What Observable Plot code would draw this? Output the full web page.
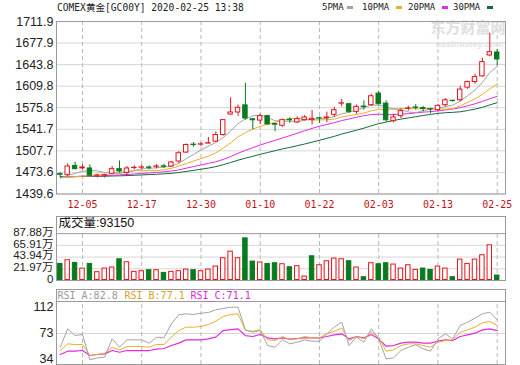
<!DOCTYPE html>
<html><head><meta charset="utf-8">
<script src="https://cdn.jsdelivr.net/npm/d3@7"></script>
<script src="https://cdn.jsdelivr.net/npm/@observablehq/plot@0.6"></script>
<style>
body{margin:0;background:#fff;}
#wrap{position:relative;width:520px;height:365px;overflow:hidden;background:#fff;}
#wrap svg{position:absolute;left:0;}
.t{position:absolute;font-family:"DejaVu Sans Mono","Liberation Mono","Noto Sans CJK SC",monospace;color:#222;white-space:nowrap;line-height:1;}
.sw{position:absolute;width:6px;height:3px;}
</style></head><body><div id="wrap"></div>
<script>
// ---------- data ----------
const dates = ["12-02","12-03","12-04","12-05","12-06","12-09","12-10","12-11","12-12","12-13","12-16","12-17","12-18","12-19","12-20","12-23","12-24","12-26","12-27","12-30","12-31","01-02","01-03","01-06","01-07","01-08","01-09","01-10","01-13","01-14","01-15","01-16","01-17","01-20","01-21","01-22","01-23","01-24","01-27","01-28","01-29","01-30","01-31","02-03","02-04","02-05","02-06","02-07","02-10","02-11","02-12","02-13","02-14","02-17","02-18","02-19","02-20","02-21","02-24","02-25"];
const open  = [1471,1469.9,1484,1480,1479.9,1468.6,1468.8,1471.5,1478.8,1472.6,1480.4,1481.2,1481.5,1482.5,1483.3,1483,1490.9,1505,1517.5,1517.5,1519.2,1522.2,1532.7,1565.1,1568.3,1579.5,1557.5,1555.5,1562.5,1550,1547.3,1556.7,1552.5,1556.2,1556.2,1559.2,1559.5,1564.6,1582.2,1581.3,1569.3,1577.7,1579.8,1598.1,1582.3,1554.5,1562.5,1574,1576.2,1575.2,1573.5,1571.9,1579.8,1586.8,1587.6,1607.5,1616.4,1625.3,1658.3,1663];
const high  = [1473,1487,1489.8,1485.6,1485.6,1471,1471,1483,1491.9,1483,1484,1485,1484,1486,1486.5,1491,1506.6,1518.5,1520.7,1520.7,1528.9,1537.5,1557,1591.5,1580,1614.5,1559,1565.5,1564,1551,1558,1560,1561.5,1563.5,1571.5,1561,1568.8,1576.2,1588.7,1583,1580,1586.6,1597,1601.8,1586.6,1565.6,1573.5,1578.2,1580.8,1578,1575,1581.3,1590.2,1587.6,1609.6,1618,1628.4,1654,1693.3,1668];
const low   = [1465,1467.3,1477.8,1477.8,1467.5,1465,1464.7,1470,1472.6,1467.3,1477.8,1477.8,1478,1479,1480,1481.5,1488,1503.9,1513.3,1514.4,1518.5,1521,1531,1564,1562,1556.2,1541,1549,1548.3,1538,1545,1551,1551,1555,1548.5,1551,1552.5,1560.4,1577.2,1567,1565.6,1572,1578,1579.8,1553,1552,1558.8,1570.4,1571.9,1569,1566,1569.3,1577.2,1584.4,1585,1604.9,1612.7,1624.2,1656.2,1642];
const close = [1470,1483,1478.8,1481.5,1468.5,1469,1469.4,1478.8,1475.2,1479.9,1481,1481.6,1480.9,1483,1482.6,1489.3,1503.9,1517,1516.9,1518,1519.8,1532.7,1556.2,1568.3,1575.7,1558.8,1556,1562.5,1549.4,1549,1556.2,1556,1557.8,1560.4,1558.3,1558.8,1560.4,1571.9,1582.8,1569.3,1577.2,1576.7,1593.9,1581.3,1556,1560.5,1570.4,1574.6,1575.5,1573.8,1573,1578.7,1587.6,1586.4,1604.4,1616.3,1624.2,1647.8,1663.5,1652];
// volume in 万
const volume = [31.1,38.0,33.0,22.4,31.1,15.6,22.4,24.3,39.8,34.2,16.2,17.4,19.3,19.3,14.3,16.2,17.4,20.5,19.3,17.4,20.5,26.1,41.7,54.1,41.7,79.0,35.5,33.8,31.0,32.4,30.5,24.9,26.8,7.5,45.4,28.6,36.1,41.1,39.8,36.1,24.3,6.2,32.4,30.5,32.4,29.9,22.4,28.6,19.9,22.4,19.9,26.1,22.4,6.2,39.2,31.1,39.2,47.3,66.0,9.315];
const ma5  = [1465,1469,1472,1475.5,1476.6,1476.3,1473.3,1473.3,1472.0,1474.0,1476.6,1479.3,1479.7,1481.3,1481.9,1483.6,1488.0,1495.2,1502.0,1509.0,1515.1,1520.9,1528.7,1539.0,1550.5,1558.3,1563.0,1564.3,1560.5,1555.2,1554.7,1554.7,1553.8,1556.0,1557.7,1558.2,1559.0,1561.9,1566.3,1568.5,1572.3,1575.6,1580.0,1579.7,1577.1,1574.1,1572.9,1569.0,1567.9,1571.4,1573.5,1575.1,1577.7,1579.9,1586.0,1594.7,1603.8,1615.8,1631.2,1640.8];
const ma10 = [1465.3,1466.5,1467,1467.8,1468.3,1468.8,1470,1471.8,1473.8,1475.3,1476.4,1476.3,1476.5,1476.7,1478.0,1480.1,1483.7,1487.5,1491.7,1495.5,1499.3,1504.5,1512.0,1520.5,1529.8,1536.7,1541.9,1546.5,1549.7,1552.9,1556.5,1558.9,1559.0,1558.2,1556.5,1556.4,1556.9,1557.8,1561.2,1563.1,1565.2,1567.3,1570.9,1573.0,1573.1,1573.5,1574.5,1574.8,1574.0,1574.5,1574.1,1574.3,1573.6,1574.1,1578.7,1584.1,1589.5,1596.8,1605.6,1613.4];
const ma20 = [1465.5,1466.4,1467.1,1467.9,1468.2,1468.3,1468.5,1469.2,1469.7,1470.4,1471.2,1472.0,1472.8,1473.7,1474.6,1475.8,1477.7,1480.3,1482.9,1485.4,1487.9,1490.4,1494.2,1498.6,1503.9,1508.4,1512.8,1517.0,1520.7,1524.2,1527.9,1531.7,1535.5,1539.4,1543.1,1546.6,1549.4,1552.2,1555.5,1558.0,1560.9,1563.1,1565.0,1565.6,1564.8,1565.0,1565.7,1566.3,1567.6,1568.8,1569.6,1570.8,1572.3,1573.6,1575.9,1578.8,1582.0,1585.8,1589.8,1593.9];
const ma30 = [1467,1467,1467,1467.2,1467.3,1467.4,1467.6,1468,1468.3,1468.7,1469.1,1469.7,1470.2,1470.8,1471.4,1472.2,1473.5,1475.2,1476.9,1478.7,1480.5,1482.8,1485.8,1489.3,1493.0,1496.1,1499.1,1502.3,1505.1,1507.9,1510.8,1513.2,1515.8,1518.5,1521.4,1524.4,1527.5,1530.6,1534.2,1537.2,1540.4,1543.5,1547.3,1550.6,1553.1,1555.6,1557.8,1559.7,1561.6,1563.5,1565.3,1566.8,1567.9,1568.5,1569.4,1571.3,1573.6,1576.4,1580.3,1583.7];
const rsiA = [52.7,79.9,70.0,71.5,34.0,36.9,37.9,65.1,52.7,63.6,63.6,63.6,58.7,67.6,66.6,87.3,100.7,102.1,101.2,103.1,104.1,108.1,110.1,112.0,112.0,78.4,75.0,77.4,55.2,52.7,63.6,57.7,60.2,63.6,61.6,61.6,72.5,82.4,89.8,55.2,67.6,60.2,79.9,65.1,35.5,36.9,47.8,52.7,56.2,50.3,46.8,65.1,72.5,65.1,84.9,89.8,95.7,102.1,104.6,93.3];
const rsiB = [47.8,57.7,56.7,56.7,40.4,41.9,43.9,52.7,48.8,53.7,53.7,53.7,52.7,56.7,56.7,67.6,77.4,82.4,82.4,83.4,86.3,91.3,98.2,101.2,102.1,77.4,76.5,78.4,63.6,62.6,68.6,63.6,65.1,68.6,66.6,66.6,72.5,76.5,80.9,62.6,68.6,65.1,75.0,67.6,46.8,48.8,55.2,57.7,57.7,55.2,52.7,60.2,62.6,63.6,75.0,78.4,82.4,88.8,90.8,84.9];
const rsiC = [41.9,46.8,46.8,47.8,40.4,41.9,42.9,47.8,45.3,47.8,47.8,47.8,47.8,49.8,50.8,55.2,58.7,63.6,63.6,63.6,65.1,67.6,77.4,78.9,79.9,70.0,68.6,71.5,66.6,65.1,66.6,64.6,65.6,66.6,66.6,66.6,68.6,71.0,72.5,65.1,68.6,66.6,71.5,65.1,54.2,55.2,58.7,60.2,60.2,58.7,58.7,61.6,63.6,62.6,68.6,71.0,73.5,78.4,79.9,77.4];
const priceTicks = [1439.6,1473.6,1507.7,1541.7,1575.8,1609.8,1643.8,1677.9,1711.9];
const volTicks = [0,21.97,43.94,65.91,87.88];
const rsiTicks = [34,73,112];
const xTickLabels = ["12-05","12-17","12-30","01-10","01-22","02-03","02-13","02-25"];
const titleText = "COMEX黄金[GC00Y] 2020-02-25 13:38";
const maNames = ["5PMA","10PMA","20PMA","30PMA"];
const volHeader = "成交量:93150";
const rsiHeader = ["RSI_A:82.8","RSI_B:77.1","RSI_C:71.1"];

// ---------- styling ----------
const RED = "#e3131b", GREEN = "#0b7a1f";
const C5 = "#a3a3a3", C10 = "#e8b12c", C20 = "#e22ae2", C30 = "#136b3b";
const GRID = "#d6d6d6", FRAME = "#9a9a9a", VGRID = "#b8b8b8";
const SANS = "Liberation Sans, Arial, Noto Sans CJK SC, sans-serif";
const MONO = "DejaVu Sans Mono, Liberation Mono, Noto Sans CJK SC, monospace";
const XDOM = [-0.51, 60.12];

const rows = dates.map((d, i) => ({
  i, date: d, open: open[i], high: high[i], low: low[i], close: close[i],
  vol: volume[i], ma5: ma5[i], ma10: ma10[i], ma20: ma20[i], ma30: ma30[i],
  ra: rsiA[i], rb: rsiB[i], rc: rsiC[i],
  up: close[i] >= open[i],
  vup: i === 0 ? close[i] >= open[i] : close[i] >= close[i - 1]
}));
const tickIdx = xTickLabels.map(l => dates.indexOf(l));
const HW = 0.3;

const wrap = document.getElementById("wrap");
function place(svg, top) { svg.style.top = top + "px"; wrap.appendChild(svg); }

// ---------- main candlestick panel ----------
const main = Plot.plot({
  width: 520, height: 215, marginLeft: 56, marginRight: 15, marginTop: 21, marginBottom: 21.5,
  x: {type: "linear", domain: XDOM, label: null},
  y: {domain: [priceTicks[0], priceTicks[priceTicks.length - 1]], label: null},
  style: {fontFamily: SANS, background: "transparent", color: "#222"},
  marks: [
    Plot.gridY(priceTicks, {stroke: GRID, strokeOpacity: 1}),
    Plot.ruleX(tickIdx, {stroke: VGRID, strokeDasharray: "4,3"}),
    Plot.axisY(priceTicks, {tickSize: 0, tickPadding: 3, fontSize: 12.5, label: null, tickFormat: d => d.toFixed(1)}),
    Plot.axisX(tickIdx, {tickSize: 0, tickPadding: 7, fontSize: 10, fontFamily: MONO, fill: "#c4121a", label: null, tickFormat: i => dates[i]}),
    Plot.text(["东方财富网"], {frameAnchor: "top-right", dx: 0, dy: 1, fontSize: 15, fontWeight: "bold", fill: "#dedede", fontFamily: "Noto Sans CJK SC, sans-serif", lineAnchor: "top"}),
    Plot.text(["eastmoney.com"], {frameAnchor: "top-right", dx: -2, dy: 19, fontSize: 9, fontWeight: "bold", fontStyle: "italic", fill: "#e2e2e2", lineAnchor: "top"}),
    Plot.line(rows, {x: "i", y: "ma30", stroke: C30, strokeWidth: 1}),
    Plot.line(rows, {x: "i", y: "ma20", stroke: C20, strokeWidth: 1}),
    Plot.line(rows, {x: "i", y: "ma10", stroke: C10, strokeWidth: 1}),
    Plot.line(rows, {x: "i", y: "ma5", stroke: C5, strokeWidth: 1}),
    Plot.ruleX(rows, {x: "i", y1: "low", y2: "high", stroke: d => d.up ? RED : GREEN, strokeWidth: 1}),
    Plot.rect(rows, {
      x1: d => d.i - HW, x2: d => d.i + HW,
      y1: d => Math.min(d.open, d.close), y2: d => Math.max(d.open, d.close, Math.min(d.open, d.close) + 0.3),
      fill: d => d.up ? "#fff" : GREEN, stroke: d => d.up ? RED : GREEN, strokeWidth: 1
    }),
    Plot.frame({stroke: FRAME})
  ]
});
place(main, 0);

// ---------- volume panel ----------
const vol = Plot.plot({
  width: 520, height: 75, marginLeft: 56, marginRight: 15, marginTop: 6, marginBottom: 5,
  x: {type: "linear", domain: XDOM, axis: null, label: null},
  y: {domain: [0, 120], label: null},
  style: {fontFamily: SANS, background: "transparent", color: "#222"},
  marks: [
    Plot.gridY(volTicks.slice(1, 4), {stroke: GRID, strokeOpacity: 1}),
    Plot.ruleX(tickIdx, {y1: 0, y2: volTicks[4], stroke: VGRID, strokeDasharray: "4,3"}),
    Plot.ruleY([volTicks[4]], {stroke: FRAME}),
    Plot.axisY(volTicks, {tickSize: 0, tickPadding: 3, fontSize: 11.5, dy: -1.5, label: null, tickFormat: v => v === 0 ? "0" : v.toFixed(2) + "万"}),
    Plot.rect(rows, {
      x1: d => d.i - HW, x2: d => d.i + HW, y1: 0, y2: "vol",
      fill: d => d.vup ? "#fff" : GREEN, stroke: d => d.vup ? RED : GREEN, strokeWidth: 1, insetBottom: 0.5
    }),
    Plot.text([volHeader], {frameAnchor: "top-left", dx: 2, dy: 2, fontSize: 12.5, lineAnchor: "top", fill: "#111"}),
    Plot.frame({stroke: FRAME})
  ]
});
place(vol, 210);

// ---------- RSI panel ----------
const rsi = Plot.plot({
  width: 520, height: 80, marginLeft: 56, marginRight: 15, marginTop: 4, marginBottom: 1,
  x: {type: "linear", domain: XDOM, axis: null, label: null},
  y: {domain: [27.1, 138.2], label: null},
  style: {fontFamily: SANS, background: "transparent", color: "#222"},
  marks: [
    Plot.gridY([rsiTicks[1]], {stroke: GRID, strokeOpacity: 1}),
    Plot.ruleX(tickIdx, {y1: 27.1, y2: 120.4, stroke: VGRID, strokeDasharray: "4,3"}),
    Plot.ruleY([120.4], {stroke: FRAME}),
    Plot.axisY(rsiTicks, {tickSize: 0, tickPadding: 3, fontSize: 12.5, dy: -0.5, label: null}),
    Plot.line(rows, {x: "i", y: "rc", stroke: C20, strokeWidth: 1.2}),
    Plot.line(rows, {x: "i", y: "rb", stroke: C10, strokeWidth: 1}),
    Plot.line(rows, {x: "i", y: "ra", stroke: C5, strokeWidth: 1}),
    Plot.text([rsiHeader[0]], {frameAnchor: "top-left", dx: 1, dy: 2, fontSize: 10, fontFamily: MONO, fill: "#9a9a9a", lineAnchor: "top"}),
    Plot.text([rsiHeader[1]], {frameAnchor: "top-left", dx: 68, dy: 2, fontSize: 10, fontFamily: MONO, fill: "#d9a21e", lineAnchor: "top"}),
    Plot.text([rsiHeader[2]], {frameAnchor: "top-left", dx: 134, dy: 2, fontSize: 10, fontFamily: MONO, fill: "#d82ad8", lineAnchor: "top"}),
    Plot.frame({stroke: FRAME})
  ]
});
place(rsi, 285);

// ---------- title & legend ----------
function addText(txt, left, top, size, color) {
  const el = document.createElement("div");
  el.className = "t"; el.textContent = txt;
  el.style.left = left + "px"; el.style.top = top + "px";
  el.style.fontSize = size + "px"; el.style.color = color;
  wrap.appendChild(el);
}
function addSwatch(left, top, color) {
  const el = document.createElement("div");
  el.className = "sw"; el.style.left = left + "px"; el.style.top = top + "px"; el.style.background = color;
  wrap.appendChild(el);
}
addText(titleText, 57, 3, 9.6, "#222");
const legX = [322, 362, 408, 453];
const swX = [347, 396, 442, 487];
const legC = [C5, C10, C20, C30];
maNames.forEach((n, k) => { addText(n, legX[k], 3, 9, "#222"); addSwatch(swX[k], 6, legC[k]); });
</script>
</body></html>
